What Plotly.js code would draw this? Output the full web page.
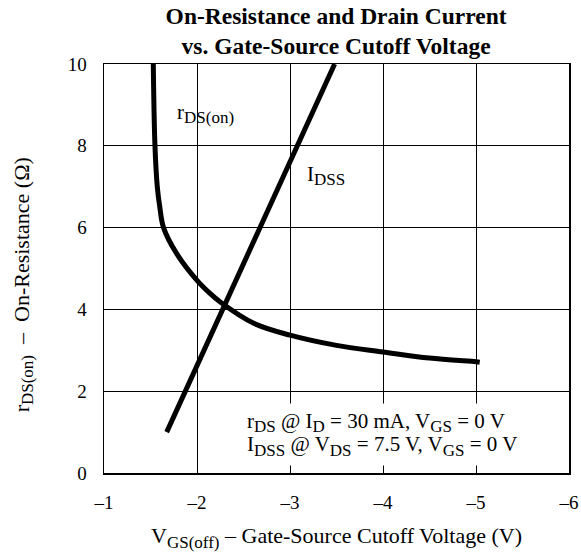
<!DOCTYPE html>
<html>
<head>
<meta charset="utf-8">
<script src="https://cdn.plot.ly/plotly-3.0.1.min.js"></script>
<style>html,body{margin:0;padding:0;background:#fff;}</style>
</head>
<body>
<div id="chart" style="width:581px;height:552px;"></div>
<script>
// r_DS(on) curve (x = V_GS(off) in V, y = on-resistance in ohms)
const rdsX = [-1.53, -1.548, -1.573, -1.60, -1.64, -1.78, -2.0, -2.14, -2.25, -2.61, -3.0, -3.5, -4.0, -4.5, -5.0, -5.04];
const rdsY = [10, 8, 7, 6.5, 6, 5.37, 4.71, 4.39, 4.18, 3.66, 3.37, 3.12, 2.96, 2.81, 2.72, 2.71];
// I_DSS line
const idssX = [-1.674, -3.48];
const idssY = [1, 10];
// tick labels
const xTickVals = [-1, -2, -3, -4, -5, -6];
const xTickText = ['\u20131', '\u20132', '\u20133', '\u20134', '\u20135', '\u20136'];
const yTickVals = [0, 2, 4, 6, 8, 10];

const FONT = 'Liberation Serif, Times New Roman, serif';
const sub = (t, s) => '<sub><span style="font-size:' + s + 'px">' + t + '</span></sub>';
const big = t => '<span style="font-size:21px">' + t + '</span>';

const traces = [
  {x: rdsX, y: rdsY, mode: 'lines', line: {color: '#000', width: 5, shape: 'spline', smoothing: 1}, hoverinfo: 'skip', name: 'rDS(on)'},
  {x: idssX, y: idssY, mode: 'lines', line: {color: '#000', width: 5}, hoverinfo: 'skip', name: 'IDSS'}
];

const noteFont = {family: FONT, size: 21, color: '#000'};
const noteLine1 = 'r' + sub('DS', 17) + ' @ I' + sub('D', 17) + ' = 30 mA, V' + sub('GS', 17) + ' = 0 V';
const noteLine2 = 'I' + sub('DSS', 17) + ' @ V' + sub('DS', 17) + ' = 7.5 V, V' + sub('GS', 17) + ' = 0 V';

const layout = {
  width: 581, height: 552,
  margin: {l: 104, r: 12, t: 64, b: 79},
  paper_bgcolor: '#fff', plot_bgcolor: '#fff',
  showlegend: false,
  font: {family: FONT, size: 19, color: '#000'},
  title: {
    text: '<b>On-Resistance and Drain Current<br>vs. Gate-Source Cutoff Voltage</b>',
    font: {family: FONT, size: 23.5, color: '#000'},
    x: 0.5785, xanchor: 'center', y: 0.957, yanchor: 'top'
  },
  xaxis: {
    range: [-1, -6], tickvals: xTickVals, ticktext: xTickText,
    showgrid: true, gridcolor: '#000', gridwidth: 1,
    zeroline: false, showline: true, linecolor: '#000', linewidth: 1.5, mirror: true,
    ticks: '', ticklabelstandoff: 12,
    tickfont: {family: FONT, size: 19, color: '#000'},
    title: {text: 'V' + sub('GS(off)', 17) + ' \u2013 Gate-Source Cutoff Voltage (V)', font: {family: FONT, size: 22, color: '#000'}, standoff: 16}
  },
  yaxis: {
    range: [0, 10], tickvals: yTickVals,
    showgrid: true, gridcolor: '#000', gridwidth: 1,
    zeroline: false, showline: true, linecolor: '#000', linewidth: 1.5, mirror: true,
    ticks: '', ticklabelstandoff: 12,
    tickfont: {family: FONT, size: 19, color: '#000'}
  },
  annotations: [
    {text: 'r' + sub('DS(on)', 17) + '  \u2013  On-Resistance (\u03a9)', xref: 'paper', yref: 'paper',
     x: -0.174, y: 0.459, xanchor: 'center', yanchor: 'middle', textangle: -90, showarrow: false,
     font: {family: FONT, size: 22, color: '#000'}},
    {text: 'r' + sub('DS(on)', 17), xref: 'x', yref: 'y', x: -1.763, y: 8.8, xanchor: 'left', yanchor: 'middle', showarrow: false,
     font: noteFont},
    {text: 'I' + sub('DSS', 17), xref: 'x', yref: 'y', x: -3.16, y: 7.27, xanchor: 'left', yanchor: 'middle', showarrow: false,
     font: noteFont},
    {text: big(noteLine1) + '<br>' + big(noteLine2),
     xref: 'x', yref: 'y', x: -2.47, y: 0.93, xanchor: 'left', yanchor: 'middle', align: 'left', showarrow: false,
     bgcolor: '#fff', borderpad: 5, font: {family: FONT, size: 18, color: '#000'}}
  ]
};

Plotly.newPlot('chart', traces, layout, {staticPlot: true, displayModeBar: false});
</script>
</body>
</html>
